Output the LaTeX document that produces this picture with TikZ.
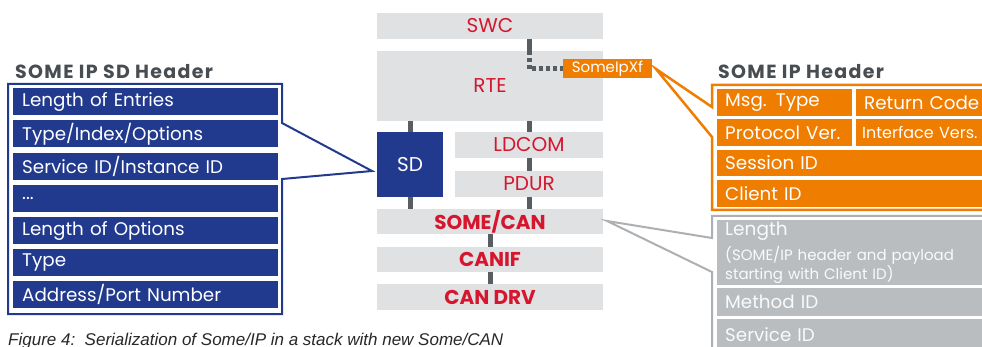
\documentclass[tikz,border=0pt]{standalone}
\usepackage{fontspec}
\setmainfont{Poppins}
\newfontfamily\titlefont{Poppins}[LetterSpace=7]
\newfontfamily\capfont{Liberation Sans}
\definecolor{sdblue}{RGB}{34,58,142}
\definecolor{orng}{RGB}{239,125,0}
\definecolor{stkgray}{RGB}{223,225,227}
\definecolor{stkred}{RGB}{214,22,46}
\definecolor{conngray}{RGB}{88,93,98}
\definecolor{hdrgray}{RGB}{185,189,192}
\definecolor{framegray}{RGB}{172,176,179}
\definecolor{titlegray}{RGB}{72,77,82}
\definecolor{captext}{RGB}{40,40,40}
\begin{document}
\begin{tikzpicture}[x=1pt,y=-1pt,
  stk/.style={fill=stkgray, draw=none, text=stkred, inner sep=0pt, font=\fontsize{20}{20}\selectfont},
  stkb/.style={stk, font=\fontsize{20}{20}\selectfont\bfseries},
  conn/.style={draw=conngray, line width=5pt},
  dconn/.style={conn, dash pattern=on 4pt off 3pt},
  sdcell/.style={fill=sdblue, text=white, anchor=north west, minimum height=27pt, text width=247pt, inner xsep=9pt, inner ysep=0pt, align=left, font=\fontsize{18.3}{18.3}\selectfont},
  ocell/.style={fill=orng, text=white, anchor=north west, minimum height=26.5pt, inner xsep=8pt, inner ysep=0pt, align=left, font=\fontsize{18.3}{18.3}\selectfont},
  gcell/.style={fill=hdrgray, text=white!93!hdrgray, anchor=north west, inner xsep=8pt, inner ysep=0pt, align=left, text width=257pt, font=\fontsize{18.3}{18.3}\selectfont},
  title/.style={anchor=base west, inner sep=0pt, text=titlegray, font=\titlefont\fontsize{19}{19}\selectfont\bfseries},
  blueline/.style={draw=sdblue, line width=2pt, line join=miter},
  orline/.style={draw=orng, line width=2.5pt, line join=miter},
  grayline/.style={draw=framegray, line width=2pt, line join=miter}
]
\clip (0,0) rectangle (982,347);
\fill[white] (0,0) rectangle (982,347);

% ---------- stack ----------
\node[stk, minimum width=226pt, minimum height=26pt] (swc) at (490,26) {SWC};
\node[stk, minimum width=226pt, minimum height=70pt] (rte) at (490,86) {RTE};
\node[fill=sdblue, text=white, inner sep=0pt, minimum width=66pt, minimum height=65pt, font=\fontsize{20}{20}\selectfont] (sd) at (410,164.5) {SD};
\node[stk, minimum width=148pt, minimum height=26pt] (ldcom) at (529,145) {LDCOM};
\node[stk, minimum width=148pt, minimum height=26pt] (pdur) at (529,184) {PDUR};
\node[stkb, minimum width=226pt, minimum height=25pt] (somecan) at (490,221.5) {SOME/CAN};
\node[stkb, minimum width=226pt, minimum height=25pt] (canif) at (490,259.5) {CANIF};
\node[stkb, minimum width=226pt, minimum height=26pt] (candrv) at (490,297) {CAN DRV};
\node[fill=orng, text=white, inner sep=0pt, minimum width=89pt, minimum height=19pt, font=\fontsize{15}{15}\selectfont] (xf) at (607.5,69) {SomeIpXf};

% connectors
\draw[conn] (swc.south -| ldcom.north) -- (rte.north -| ldcom.north);
\draw[dconn] (rte.north -| ldcom.north) |- (xf.west);
\draw[conn] (sd.north |- rte.south) -- (sd.north);
\draw[conn] (ldcom.north |- rte.south) -- (ldcom.north);
\draw[conn] (ldcom.south) -- (pdur.north);
\draw[conn] (pdur.south) -- (pdur.south |- somecan.north);
\draw[conn] (sd.south) -- (sd.south |- somecan.north);
\draw[conn] (somecan.south) -- (canif.north);
\draw[conn] (canif.south) -- (candrv.north);

% ---------- SOME IP SD Header ----------
\node[title] (sdtitle) at (15,79) {SOME IP SD Header};
\node[sdcell] (r1) at (13,88) {Length of Entries};
\node[sdcell] (r2) at (13,120.2) {Type/Index/Options};
\node[sdcell] (r3) at (13,152.4) {Service ID/Instance ID};
\node[sdcell] (r4) at (13,184.6) {...};
\node[sdcell] (r5) at (13,216.8) {Length of Options};
\node[sdcell] (r6) at (13,249) {Type};
\node[sdcell] (r7) at (13,281.2) {Address/Port Number};
\coordinate (sdtip) at (372,171);
\draw[blueline] (282,123) -- (282,84) -- (8,84) -- (8,314) -- (282,314) -- (282,179) -- (sdtip) -- cycle;

% ---------- SOME IP Header ----------
\node[title] (iptitle) at (718,79) {SOME IP Header};
\node[ocell, text width=119pt] (msg) at (717,89) {Msg. Type};
\node[ocell, text width=144pt] (ret) at (856,89) {Return Code};
\node[ocell, text width=119pt] (proto) at (717,119.3) {Protocol Ver.};
\node[ocell, text width=144pt, inner xsep=6pt, font=\fontsize{16}{16}\selectfont] (iface) at (856,119.3) {Interface Vers.};
\node[ocell, text width=283pt] (sess) at (717,149.6) {Session ID};
\node[ocell, text width=283pt] (client) at (717,180) {Client ID};
\coordinate (ortip) at (656,69);
\draw[orline] (712,107) -- (712,85) -- (995,85) -- (995,210) -- (712,210) -- (712,137) -- (ortip) -- cycle;

% ---------- gray part ----------
\node[gcell, minimum height=65pt, font=\fontsize{15}{14}\selectfont] (len) at (717,220)
  {{\fontsize{18.5}{18.5}\selectfont Length}\\[5pt](SOME/IP header and payload\\starting with Client ID)};
\node[gcell, minimum height=28pt] (meth) at (717,288) {Method ID};
\node[gcell, minimum height=31pt] (serv) at (717,319) {Service ID};
\coordinate (grtip) at (607,221);
\draw[grayline] (995,216) -- (712,216) -- (712,238) -- (grtip) -- (712,272) -- (712,360);

% ---------- caption ----------
\node[anchor=base west, inner sep=0pt, text=captext, font=\capfont\itshape\fontsize{17}{17}\selectfont] (cap) at (8,345) {Figure 4:\ \ Serialization of Some/IP in a stack with new Some/CAN};
\end{tikzpicture}
\end{document}
